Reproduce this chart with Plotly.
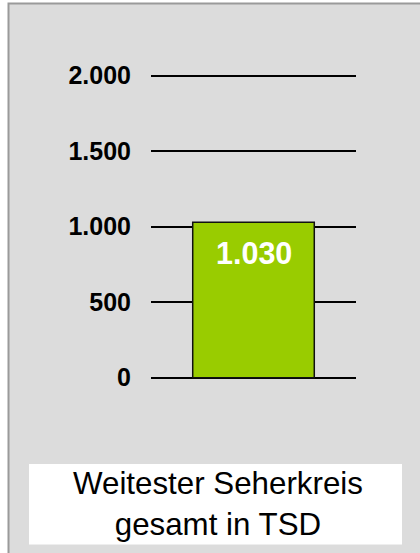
import plotly.graph_objects as go

# ---- data ----
categories = ["Weitester Seherkreis gesamt in TSD"]
values = [1030]
tick_values = [0, 500, 1000, 1500, 2000]
tick_labels = ["0", "500", "1.000", "1.500", "2.000"]
box_label = "Weitester Seherkreis<br>gesamt in TSD"

W, H = 420, 553

def px_x(p):
    return p / W

def px_y(p):
    return 1 - p / H

# y range so that 0 sits at 377.7 px and 2000 at 75.7 px
scale = (377.7 - 75.7) / 2000.0
ymax = 377.7 / scale
ymin = ymax - H / scale

fig = go.Figure()
fig.add_trace(go.Bar(
    x=categories,
    y=values,
    width=0.593,
    marker=dict(color="#99cc00", line=dict(color="#111111", width=1.5)),
    hoverinfo="skip",
))

for c, v in zip(categories, values):
    fig.add_annotation(
        x=c, y=v, xref="x", yref="y",
        text=f"{v:,}".replace(",", "."),
        showarrow=False, yanchor="top", yshift=-12,
        font=dict(family="Liberation Sans, Arial", size=30.5, color="white", weight="bold"),
    )

# background panel with top/left border
fig.add_shape(type="rect", xref="paper", yref="paper",
              x0=px_x(8.5), x1=px_x(440), y0=px_y(570), y1=px_y(3.5),
              fillcolor="#dcdcdc", line=dict(color="#9a9a9a", width=2), layer="below")
# white label box
fig.add_shape(type="rect", xref="paper", yref="paper",
              x0=px_x(29), x1=px_x(402), y0=px_y(544.5), y1=px_y(464),
              fillcolor="white", line=dict(width=0), layer="below")
fig.add_annotation(
    xref="paper", yref="paper", x=px_x(218), y=px_y(504),
    xanchor="center", yanchor="middle", showarrow=False,
    text=box_label, align="center",
    font=dict(family="Liberation Sans, Arial", size=31.3, color="black"),
)

fig.update_layout(
    width=W, height=H,
    margin=dict(l=0, r=0, t=0, b=0),
    paper_bgcolor="white",
    plot_bgcolor="rgba(0,0,0,0)",
    showlegend=False,
    xaxis=dict(domain=[px_x(151), px_x(356)], range=[-0.5, 0.5],
               showticklabels=False, showgrid=False, zeroline=False,
               showline=False, fixedrange=True),
    yaxis=dict(range=[ymin, ymax], tickvals=tick_values, ticktext=tick_labels,
               showgrid=True, gridcolor="black", gridwidth=1.5,
               zeroline=False, showline=False, ticks="",
               ticklabelstandoff=19, automargin=False,
               tickfont=dict(family="Liberation Sans, Arial", size=25, color="black", weight="bold")),
)

fig.write_html("out.html", config={"displayModeBar": False},
               post_script="document.body.style.margin='0';document.body.style.overflow='hidden';")
